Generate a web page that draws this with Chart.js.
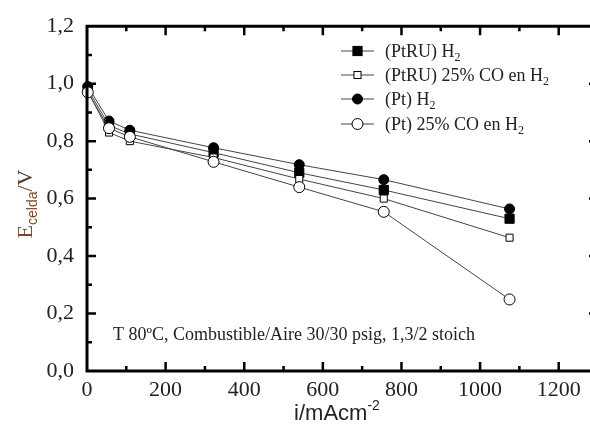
<!DOCTYPE html>
<html>
<head>
<meta charset="utf-8">
<script src="https://cdn.jsdelivr.net/npm/chart.js@4.4.1/dist/chart.umd.min.js"></script>
<style>
  html, body { margin: 0; padding: 0; background: #fff; overflow: hidden; }
  #wrap { width: 590px; height: 433px; overflow: hidden; position: relative; }
  canvas { display: block; }
</style>
</head>
<body>
<div id="wrap"><canvas id="c" width="610" height="433"></canvas></div>
<script>
// Current density (mA/cm2) and cell voltage (V) for each anode / fuel combination
const currentDensity = [2, 56, 109, 322, 540, 755, 1075];
const ptruH2 = [0.980, 0.855, 0.825, 0.760, 0.690, 0.630, 0.530];
const ptruCO = [0.975, 0.830, 0.800, 0.743, 0.668, 0.600, 0.464];
const ptH2   = [0.990, 0.870, 0.838, 0.777, 0.718, 0.666, 0.564];
const ptCO   = [0.970, 0.845, 0.815, 0.728, 0.640, 0.554, 0.249];

const xTicks = [0, 200, 400, 600, 800, 1000, 1200];
const yTicks = [0, 0.2, 0.4, 0.6, 0.8, 1.0, 1.2];
const seriesNames = ['(PtRU) H', '(PtRU) 25% CO en H', '(Pt) H', '(Pt) 25% CO en H'];
const note = 'T 80ºC, Combustible/Aire 30/30 psig, 1,3/2 stoich';

const SERIF = '"Liberation Serif", "Times New Roman", serif';
const SANS = '"Liberation Sans", Arial, sans-serif';

const styles = [
  { pointStyle: 'rect',   radius: 6.5, fill: '#000', border: '#000' },
  { pointStyle: 'rect',   radius: 5,   fill: '#fff', border: '#000' },
  { pointStyle: 'circle', radius: 5,   fill: '#000', border: '#000' },
  { pointStyle: 'circle', radius: 5.5, fill: '#fff', border: '#000' }
];
const values = [ptruH2, ptruCO, ptH2, ptCO];

// draw order: open markers first so filled ones sit on top
const order = [3, 1, 0, 2];
const datasets = order.map(i => ({
  label: seriesNames[i],
  data: currentDensity.map((x, k) => ({ x: x, y: values[i][k] })),
  borderColor: '#444',
  borderWidth: 1,
  pointStyle: styles[i].pointStyle,
  pointRadius: styles[i].radius,
  pointBackgroundColor: styles[i].fill,
  pointBorderColor: styles[i].border,
  pointBorderWidth: 1,
  clip: false
}));

function fmt(v) { return v.toFixed(1).replace('.', ','); }

const framePlugin = {
  id: 'frame',
  afterDraw(chart) {
    const ctx = chart.ctx;
    const a = chart.chartArea;
    const xs = chart.scales.x, ys = chart.scales.y;
    ctx.save();
    ctx.strokeStyle = '#000';
    ctx.lineCap = 'square';

    // box
    ctx.lineWidth = 3;
    ctx.beginPath();
    ctx.moveTo(a.left, a.top); ctx.lineTo(a.right, a.top);
    ctx.lineTo(a.right, a.bottom); ctx.lineTo(a.left, a.bottom);
    ctx.closePath();
    ctx.stroke();

    // inward ticks, major and minor
    ctx.lineWidth = 2.5;
    ctx.lineCap = 'butt';
    ctx.beginPath();
    for (let v = 100; v < 1300; v += 100) {
      const px = xs.getPixelForValue(v);
      const len = (v % 200 === 0) ? 9 : 5;
      ctx.moveTo(px, a.bottom); ctx.lineTo(px, a.bottom - len);
      ctx.moveTo(px, a.top); ctx.lineTo(px, a.top + len);
    }
    for (let k = 1; k < 12; k++) {
      const v = k / 10;
      const py = ys.getPixelForValue(v);
      const len = (k % 2 === 0) ? 9 : 5;
      ctx.moveTo(a.left, py); ctx.lineTo(a.left + len, py);
      ctx.moveTo(a.right, py); ctx.lineTo(a.right - len, py);
    }
    ctx.stroke();

    // legend
    const lx = 341, ly = [51, 75, 99, 124];
    for (let i = 0; i < 4; i++) {
      const y = ly[i];
      ctx.strokeStyle = '#444';
      ctx.lineWidth = 1;
      ctx.beginPath();
      ctx.moveTo(lx, y); ctx.lineTo(lx + 33, y);
      ctx.stroke();
      const s = styles[i];
      ctx.fillStyle = s.fill;
      ctx.strokeStyle = s.border;
      ctx.lineWidth = 1;
      const cx = lx + 16.5;
      if (s.pointStyle === 'rect') {
        const h = s.radius * Math.SQRT1_2;
        ctx.fillRect(cx - h, y - h, 2 * h, 2 * h);
        ctx.strokeRect(cx - h, y - h, 2 * h, 2 * h);
      } else {
        ctx.beginPath();
        ctx.arc(cx, y, s.radius, 0, Math.PI * 2);
        ctx.fill(); ctx.stroke();
      }
      ctx.fillStyle = '#222';
      ctx.textBaseline = 'alphabetic';
      ctx.textAlign = 'left';
      ctx.font = '18px ' + SERIF;
      const tx = 385;
      ctx.fillText(seriesNames[i], tx, y + 6);
      const w = ctx.measureText(seriesNames[i]).width;
      ctx.font = '12px ' + SERIF;
      ctx.fillText('2', tx + w, y + 10);
    }

    // conditions note
    ctx.fillStyle = '#222';
    ctx.font = '18px ' + SERIF;
    ctx.textAlign = 'left';
    ctx.fillText(note, 113, 340);

    // x title with superscript
    ctx.font = '22px ' + SANS;
    const xt = 'i/mAcm';
    const wx = ctx.measureText(xt).width;
    ctx.font = '14px ' + SANS;
    const ws = ctx.measureText('-2').width;
    const x0 = 337 - (wx + ws) / 2;
    ctx.font = '22px ' + SANS;
    ctx.fillText(xt, x0, 420);
    ctx.font = '14px ' + SANS;
    ctx.fillText('-2', x0 + wx, 410);

    // y title, rotated
    ctx.translate(32, 204);
    ctx.rotate(-Math.PI / 2);
    ctx.fillStyle = '#7a4a2c';
    ctx.font = '22px ' + SERIF;
    const wE = ctx.measureText('E').width;
    ctx.font = '14px ' + SANS;
    const wc = ctx.measureText('celda').width;
    ctx.font = '22px ' + SERIF;
    const wV = ctx.measureText('/V').width;
    let sx = -(wE + wc + wV) / 2;
    ctx.fillText('E', sx, 0);
    ctx.font = '14px ' + SANS;
    ctx.fillText('celda', sx + wE, 5);
    ctx.font = '22px ' + SERIF;
    ctx.fillStyle = '#5a3a26';
    ctx.fillText('/V', sx + wE + wc, 0);
    ctx.restore();
  }
};

new Chart(document.getElementById('c'), {
  type: 'line',
  data: { datasets: datasets },
  options: {
    responsive: false,
    animation: false,
    devicePixelRatio: 1,
    layout: { padding: { top: 22, right: 12, left: 0, bottom: 0 } },
    plugins: { legend: { display: false }, tooltip: { enabled: false } },
    scales: {
      x: {
        type: 'linear',
        min: 0, max: 1300,
        afterBuildTicks(s) { s.ticks = xTicks.map(v => ({ value: v })); },
        afterFit(s) { s.height = 62; },
        grid: { display: false, drawTicks: false },
        border: { display: false },
        ticks: {
          padding: 6,
          color: '#222',
          font: { family: SERIF, size: 22 },
          maxRotation: 0,
          callback: v => String(v)
        }
      },
      y: {
        type: 'linear',
        min: 0, max: 1.2,
        afterBuildTicks(s) { s.ticks = yTicks.map(v => ({ value: v })); },
        afterFit(s) { s.width = 87; },
        grid: { display: false, drawTicks: false },
        border: { display: false },
        ticks: {
          padding: 13,
          color: '#222',
          font: { family: SERIF, size: 22 },
          callback: v => fmt(v)
        }
      }
    }
  },
  plugins: [framePlugin]
});
</script>
</body>
</html>
